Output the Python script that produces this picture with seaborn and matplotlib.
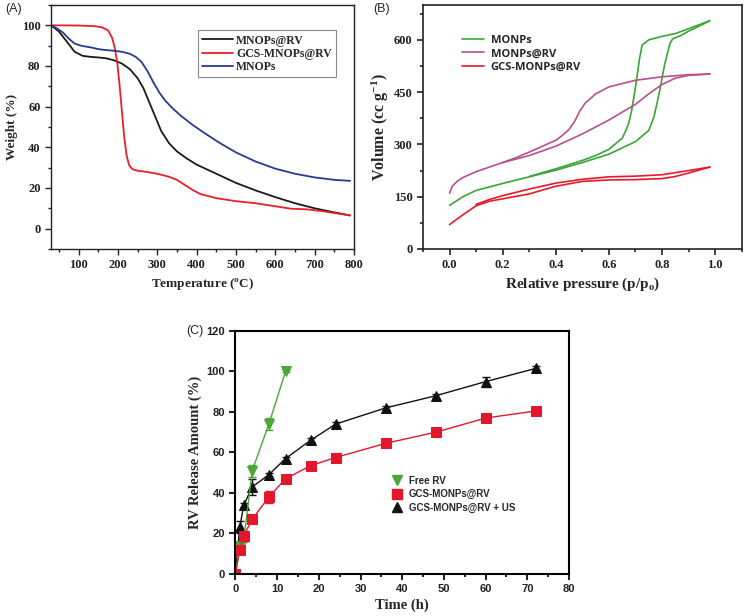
import numpy as np
import pandas as pd
import matplotlib
matplotlib.use("Agg")
import matplotlib.pyplot as plt
from matplotlib.ticker import MultipleLocator
from matplotlib.lines import Line2D
import seaborn as sns

# ---- (A) TGA curves ----
tga_T_black = [30, 50, 70, 90, 110, 130, 150, 170, 190, 210, 230, 250, 265, 280, 295, 310, 330, 350, 375, 400, 450, 500, 550, 600, 650, 700, 750, 790]
tga_W_black = [100, 97, 92, 87, 85, 84.5, 84.2, 83.8, 82.8, 81.2, 78.5, 74, 69, 62, 55, 48, 42, 38, 34.5, 31.5, 27, 22.5, 18.8, 15.5, 12.5, 10, 8, 6.5]
tga_T_red = [30, 100, 140, 160, 175, 185, 192, 198, 204, 210, 216, 222, 228, 234, 240, 250, 270, 300, 330, 350, 370, 390, 410, 450, 500, 550, 600, 640, 680, 720, 760, 790]
tga_W_red = [100, 99.9, 99.6, 99, 97.5, 94, 89, 82, 71, 58, 45, 36, 31.5, 29.8, 29, 28.5, 28, 27, 25.5, 24, 21.5, 19, 17, 15, 13.5, 12.5, 11, 9.8, 9.5, 8.6, 7.4, 6.5]
tga_T_blue = [30, 45, 60, 75, 90, 110, 130, 150, 170, 190, 210, 230, 245, 260, 275, 290, 305, 320, 340, 360, 390, 420, 460, 500, 550, 600, 650, 700, 750, 790]
tga_W_blue = [100, 98.5, 96.5, 93.5, 91, 89.8, 89.2, 88.3, 87.8, 87.5, 87, 86, 84.5, 82, 77.5, 72, 67, 63, 59, 55.5, 51, 47, 42, 37.5, 33, 29.5, 27, 25.2, 24, 23.5]

# ---- (B) N2 isotherms (adsorption / desorption branches) ----
iso_P_green_ads = [0.0, 0.05, 0.1, 0.2, 0.3, 0.4, 0.5, 0.6, 0.7, 0.75, 0.77, 0.79, 0.81, 0.83, 0.84, 0.87, 0.9, 0.95, 0.98]
iso_V_green_ads = [125, 150, 168, 188, 207, 226, 248, 272, 308, 340, 380, 450, 530, 590, 603, 612, 625, 643, 655]
iso_P_green_des = [0.98, 0.9, 0.85, 0.8, 0.75, 0.725, 0.715, 0.705, 0.695, 0.685, 0.675, 0.665, 0.65, 0.6, 0.55, 0.5, 0.4, 0.3]
iso_V_green_des = [655, 632, 618, 610, 600, 585, 545, 490, 440, 395, 362, 342, 318, 286, 268, 254, 230, 208]
iso_P_purple_ads = [0.0, 0.01, 0.03, 0.05, 0.1, 0.2, 0.3, 0.4, 0.5, 0.6, 0.7, 0.75, 0.8, 0.85, 0.9, 0.98]
iso_V_purple_ads = [160, 180, 195, 205, 222, 248, 268, 295, 330, 370, 415, 445, 472, 490, 498, 502]
iso_P_purple_des = [0.98, 0.9, 0.8, 0.7, 0.6, 0.55, 0.51, 0.49, 0.47, 0.45, 0.42, 0.4, 0.35, 0.3, 0.25, 0.2]
iso_V_purple_des = [502, 500, 494, 484, 465, 445, 418, 395, 365, 343, 323, 312, 295, 278, 262, 248]
iso_P_red_ads = [0.0, 0.05, 0.1, 0.15, 0.2, 0.3, 0.4, 0.5, 0.6, 0.7, 0.8, 0.85, 0.9, 0.98]
iso_V_red_ads = [70, 98, 124, 137, 144, 158, 180, 194, 198, 199, 202, 208, 218, 235]
iso_P_red_des = [0.98, 0.9, 0.8, 0.7, 0.6, 0.5, 0.4, 0.3, 0.2, 0.15, 0.1]
iso_V_red_des = [235, 225, 213, 209, 207, 200, 189, 172, 153, 142, 128]

# ---- (C) release profiles ----
t_free = [0, 1, 2, 4, 8, 12]
rel_free = [0, 14, 17, 51, 74, 100]
err_free = [0, 1.5, 1, 3, 3, 0.5]
t_gcs = [0, 1, 2, 4, 8, 12, 18, 24, 36, 48, 60, 72]
rel_gcs = [0, 12, 19, 27, 38, 47, 53.5, 57.5, 64.5, 70, 77, 80.5]
err_gcs = [0, 1, 1, 1, 3, 1, 1, 1, 1, 1, 1, 1]
t_us = [0, 1, 2, 4, 8, 12, 18, 24, 36, 48, 60, 72]
rel_us = [0, 23, 34, 43, 49, 57, 66, 74, 82, 88, 95, 101.5]
err_us = [0, 3, 1, 4, 1, 1, 1, 1, 1, 1, 2.5, 1]

sns.set_style("ticks")
plt.rcParams['font.family'] = ['Liberation Serif', 'DejaVu Serif']
plt.rcParams['mathtext.fontset'] = 'custom'
plt.rcParams['mathtext.rm'] = 'Liberation Serif:bold'
plt.rcParams['mathtext.it'] = 'Liberation Serif:bold'
plt.rcParams['mathtext.bf'] = 'Liberation Serif:bold'

fig = plt.figure(figsize=(7.45, 6.16), dpi=100)
axA = fig.add_axes([0.0685, 0.5958, 0.4067, 0.3961])
axB = fig.add_axes([0.5678, 0.5958, 0.4278, 0.3961])
axC = fig.add_axes([0.3161, 0.0682, 0.4477, 0.3945])

serif_bold = dict(family='Liberation Serif', weight='bold')

def style_axis(ax, lw=1.0):
    for s in ax.spines.values():
        s.set_visible(True)
        s.set_linewidth(lw)
        s.set_color('#222222')
    ax.tick_params(which='major', direction='out', length=4, width=lw, colors='#222222')
    ax.tick_params(which='minor', direction='out', length=2.5, width=lw)

# ---------- panel A ----------
sns.lineplot(x=tga_T_black, y=tga_W_black, ax=axA, color='#1a1a1a', lw=1.3, label='MNOPs@RV')
sns.lineplot(x=tga_T_red, y=tga_W_red, ax=axA, color='#e8202a', lw=1.3, label='GCS-MNOPs@RV')
sns.lineplot(x=tga_T_blue, y=tga_W_blue, ax=axA, color='#2b3990', lw=1.3, label='MNOPs')
axA.set_xlim(30, 800)
axA.set_ylim(-10, 110)
axA.xaxis.set_major_locator(MultipleLocator(100))
axA.xaxis.set_minor_locator(MultipleLocator(50))
axA.yaxis.set_major_locator(MultipleLocator(20))
axA.yaxis.set_minor_locator(MultipleLocator(10))
axA.set_xticks([100, 200, 300, 400, 500, 600, 700, 800])
style_axis(axA, 1.0)
for lab in axA.get_xticklabels() + axA.get_yticklabels():
    lab.set_fontproperties(dict(family='Liberation Serif', weight='bold', size=9))
axA.set_xlabel('Temperature ($^{o}$C)', fontsize=9.5, labelpad=3, **serif_bold)
axA.set_ylabel('Weight (%)', fontsize=9.5, labelpad=3, **serif_bold)
legA = axA.legend(loc='upper right', bbox_to_anchor=(0.96, 0.92), fancybox=False,
                  edgecolor='#888888', framealpha=1, handlelength=2.6, handletextpad=0.3,
                  borderpad=0.35, labelspacing=0.1, prop=dict(family='Liberation Serif', weight='bold', size=8.5))
legA.get_frame().set_linewidth(0.8)

# ---------- panel B ----------
green, purple, red = '#3aa53a', '#b8508e', '#e8192c'
for P, V in [(iso_P_green_ads, iso_V_green_ads), (iso_P_green_des, iso_V_green_des)]:
    sns.lineplot(x=P, y=V, ax=axB, color=green, lw=1.2, sort=False)
for P, V in [(iso_P_purple_ads, iso_V_purple_ads), (iso_P_purple_des, iso_V_purple_des)]:
    sns.lineplot(x=P, y=V, ax=axB, color=purple, lw=1.2, sort=False)
for P, V in [(iso_P_red_ads, iso_V_red_ads), (iso_P_red_des, iso_V_red_des)]:
    sns.lineplot(x=P, y=V, ax=axB, color=red, lw=1.2, sort=False)
axB.set_xlim(-0.1, 1.1)
axB.set_ylim(0, 700)
axB.xaxis.set_major_locator(MultipleLocator(0.2))
axB.xaxis.set_minor_locator(MultipleLocator(0.1))
axB.yaxis.set_major_locator(MultipleLocator(150))
axB.yaxis.set_minor_locator(MultipleLocator(75))
axB.set_xticks([0.0, 0.2, 0.4, 0.6, 0.8, 1.0])
axB.set_xticklabels(['0.0', '0.2', '0.4', '0.6', '0.8', '1.0'])
style_axis(axB, 1.2)
for lab in axB.get_xticklabels() + axB.get_yticklabels():
    lab.set_fontproperties(dict(family='Liberation Serif', weight='bold', size=9))
axB.set_xlabel('Relative pressure (p/p$_{o}$)', fontsize=11, labelpad=3, **serif_bold)
axB.set_ylabel('Volume (cc g$^{-1}$)', fontsize=11.5, labelpad=2, **serif_bold)
handlesB = [Line2D([], [], color=c, lw=1.2) for c in (green, purple, red)]
axB.legend(handlesB, ['MONPs', 'MONPs@RV', 'GCS-MONPs@RV'], loc='upper left',
           bbox_to_anchor=(0.09, 0.92), frameon=False, handlelength=2.0, handletextpad=0.6,
           labelspacing=0.25, prop=dict(family='Open Sans', weight='bold', size=8))

# ---------- panel C ----------
cg, cr, ck = '#4aa83a', '#e3162e', '#111111'
sns.lineplot(x=t_us, y=rel_us, ax=axC, color=ck, lw=1.0, marker='^', markersize=7,
             markeredgecolor=ck)
axC.errorbar(t_us, rel_us, yerr=err_us, fmt='none', ecolor=ck, elinewidth=1, capsize=3)
sns.lineplot(x=t_free, y=rel_free, ax=axC, color=cg, lw=1.0, marker='v', markersize=7,
             markeredgecolor=cg)
axC.errorbar(t_free, rel_free, yerr=err_free, fmt='none', ecolor=cg, elinewidth=1, capsize=3)
sns.lineplot(x=t_gcs, y=rel_gcs, ax=axC, color=cr, lw=1.0, marker='s', markersize=7.5,
             markeredgecolor=cr)
axC.errorbar(t_gcs, rel_gcs, yerr=err_gcs, fmt='none', ecolor=cr, elinewidth=1, capsize=3)
axC.set_xlim(0, 80)
axC.set_ylim(0, 120)
axC.xaxis.set_major_locator(MultipleLocator(10))
axC.xaxis.set_minor_locator(MultipleLocator(5))
axC.yaxis.set_major_locator(MultipleLocator(20))
style_axis(axC, 1.5)
for s in axC.spines.values():
    s.set_color('black')
for lab in axC.get_xticklabels() + axC.get_yticklabels():
    lab.set_fontproperties(dict(family='Liberation Sans', weight='bold', size=8))
axC.set_xlabel('Time (h)', fontsize=10.5, labelpad=3, **serif_bold)
axC.set_ylabel('RV Release Amount (%)', fontsize=10.5, labelpad=3, **serif_bold)
handlesC = [Line2D([], [], ls='none', marker='v', color=cg, markersize=7),
            Line2D([], [], ls='none', marker='s', color=cr, markersize=7.5),
            Line2D([], [], ls='none', marker='^', color=ck, markersize=7)]
axC.legend(handlesC, ['Free RV', 'GCS-MONPs@RV', 'GCS-MONPs@RV + US'], loc='upper left',
           bbox_to_anchor=(0.44, 0.44), frameon=False, handlelength=1.2, handletextpad=0.6,
           labelspacing=0.35, prop=dict(family='Liberation Sans', weight='bold', size=7))

# panel letters
fig.text(5 / 745, 1 - 9 / 616, '(A)', fontsize=9, family='Liberation Sans', va='center')
fig.text(373 / 745, 1 - 9 / 616, '(B)', fontsize=9, family='Liberation Sans', va='center')
fig.text(186 / 745, 1 - 331 / 616, '(C)', fontsize=9, family='Liberation Sans', va='center')

fig.savefig('out.png', dpi=100, facecolor='white')
